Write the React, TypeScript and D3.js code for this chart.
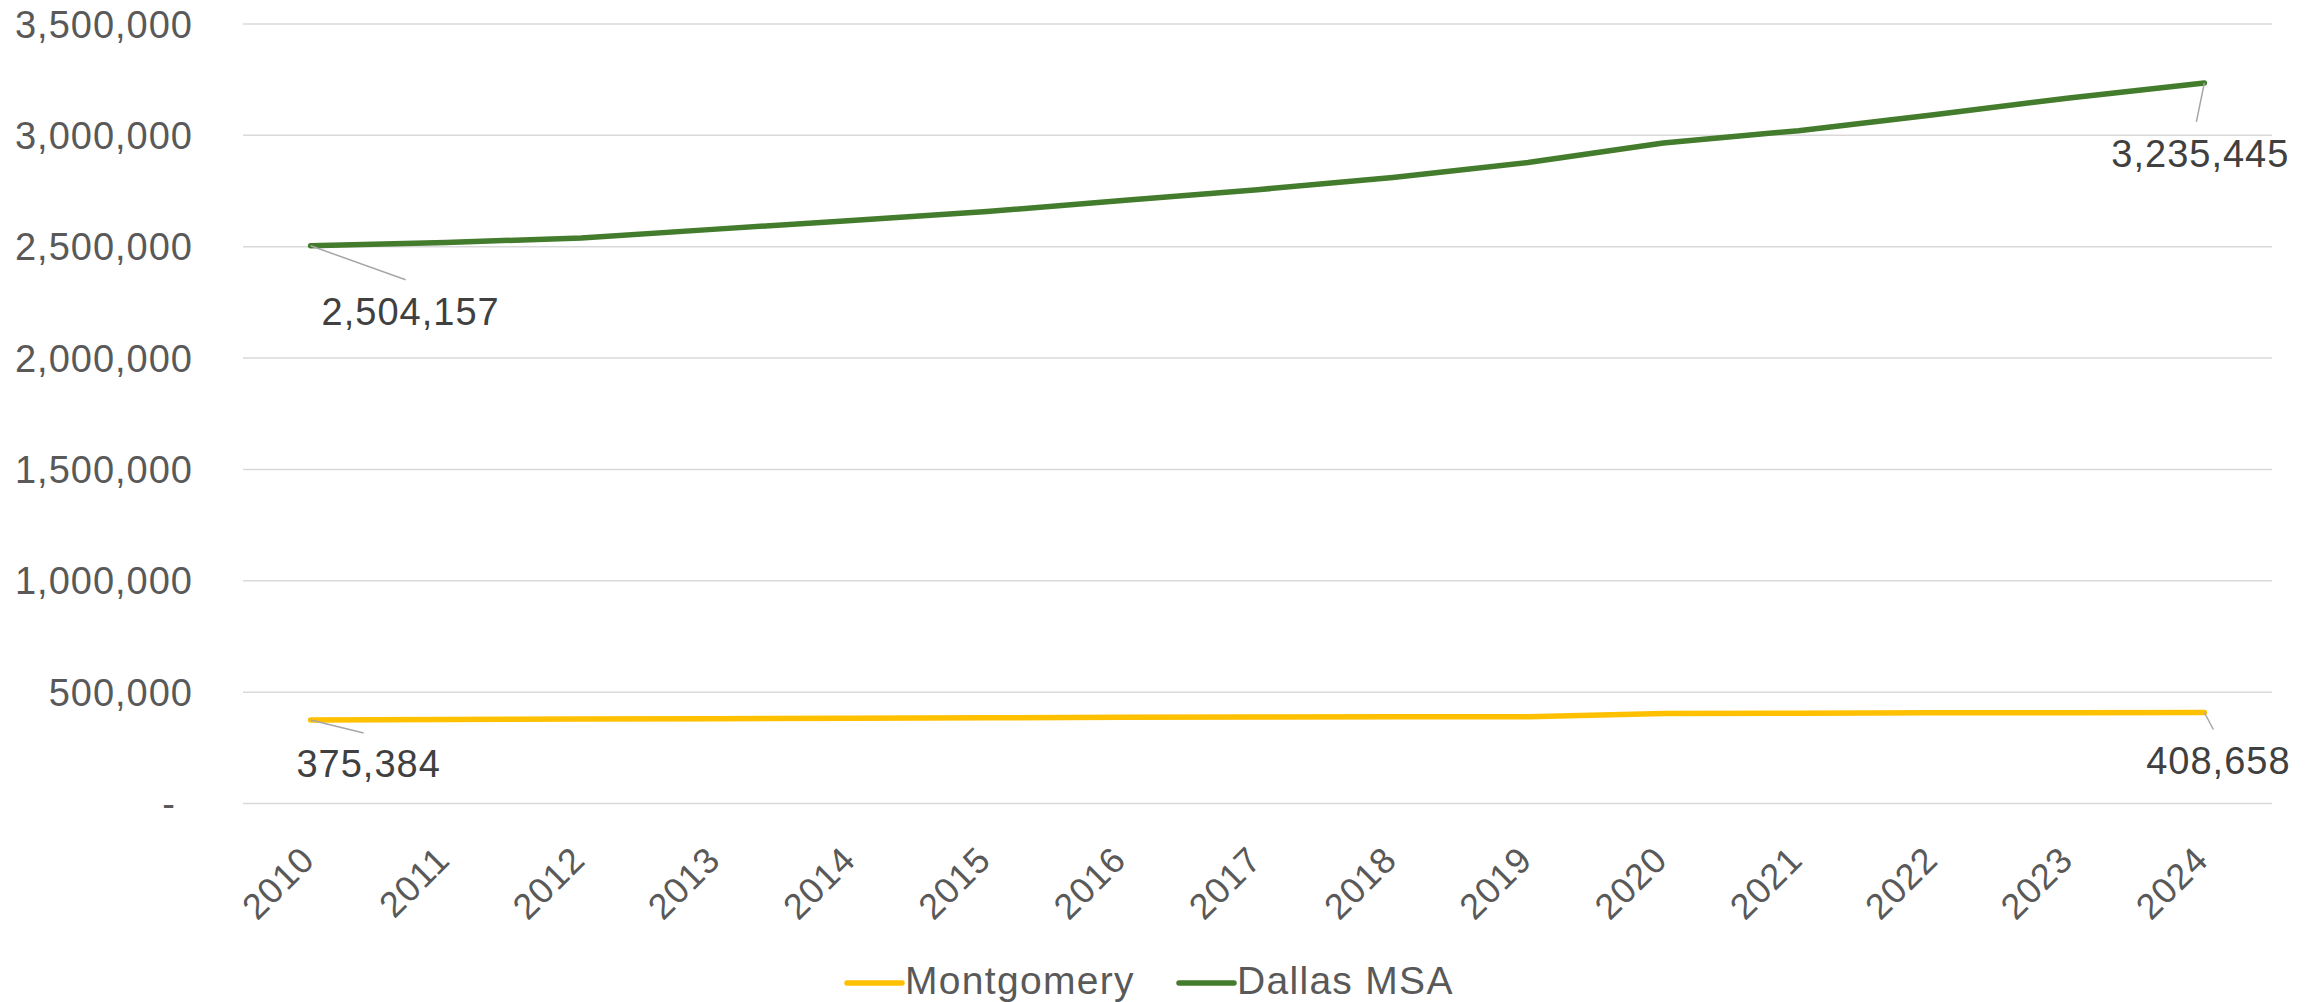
import React from "react";
import * as d3 from "d3";

const years = ["2010","2011","2012","2013","2014","2015","2016","2017","2018","2019","2020","2021","2022","2023","2024"];
const montgomery = [375384, 377000, 379000, 381000, 383000, 385000, 387000, 388000, 389000, 390000, 404000, 405000, 407000, 408000, 408658];
const dallas = [2504157, 2519000, 2539000, 2579000, 2618000, 2658000, 2708000, 2756000, 2811000, 2878000, 2966000, 3021000, 3093000, 3168000, 3235445];
const yTicks = [0, 500000, 1000000, 1500000, 2000000, 2500000, 3000000, 3500000];
const seriesNames = ["Montgomery", "Dallas MSA"];
const seriesColors = ["#FFC000", "#437C2C"];

const W = 2319, H = 1002;
const left = 243, right = 2272, top = 24, bottom = 803.5;

const fmt = d3.format(",");

export default function App() {
  const x = d3.scalePoint<string>().domain(years).range([left, right]).padding(0.5);
  const y = d3.scaleLinear().domain([0, 3500000]).range([bottom, top]);
  const line = d3.line<number>().x((_, i) => x(years[i])!).y((d) => y(d));
  const series = [montgomery, dallas];

  const labelOffsets = [
    [ { lx: 53, ly: 13, tx: 58, ty: 57 }, { lx: 9, ly: 17, tx: 14, ty: 62 } ],
    [ { lx: 95, ly: 34, tx: 100, ty: 79 }, { lx: -8, ly: 39, tx: -4, ty: 84 } ],
  ];

  const axisFont = "'Liberation Sans', Arial, sans-serif";
  const legendLineX = [847, 1179];

  return (
    <svg width={W} height={H} style={{ position: "absolute", left: 0, top: 0, background: "#fff" }}>
      <rect x={0} y={0} width={W} height={H} fill="#fff" />
      {yTicks.map((t) => (
        <g key={t}>
          <line x1={left} x2={right} y1={y(t)} y2={y(t)} stroke="#d9d9d9" strokeWidth={1.5} />
          <text
            x={t === 0 ? 176 : 193}
            y={y(t)}
            dy="0.36em"
            textAnchor="end"
            fontFamily={axisFont}
            fontSize={38}
            letterSpacing={1}
            fill="#595959"
          >
            {t === 0 ? "-" : fmt(t)}
          </text>
        </g>
      ))}
      {years.map((yr) => (
        <text
          key={yr}
          transform={`translate(${x(yr)! + 6},862) rotate(-45)`}
          textAnchor="end"
          fontFamily={axisFont}
          fontSize={36}
          letterSpacing={1}
          fill="#595959"
        >
          {yr}
        </text>
      ))}
      {series.map((s, si) => (
        <path
          key={si}
          d={line(s)!}
          fill="none"
          stroke={seriesColors[si]}
          strokeWidth={5.5}
          strokeLinecap="round"
          strokeLinejoin="round"
        />
      ))}
      {series.map((s, si) =>
        [0, s.length - 1].map((idx, k) => {
          const px = x(years[idx])!;
          const py = y(s[idx]);
          const o = labelOffsets[si][k];
          return (
            <g key={`${si}-${idx}`}>
              <line x1={px} y1={py} x2={px + o.lx} y2={py + o.ly} stroke="#a6a6a6" strokeWidth={1.5} />
              <text
                x={px + o.tx}
                y={py + o.ty}
                textAnchor="middle"
                fontFamily={axisFont}
                fontSize={38}
                letterSpacing={1}
                fill="#404040"
              >
                {fmt(s[idx])}
              </text>
            </g>
          );
        })
      )}
      {seriesNames.map((name, i) => {
        const lx = legendLineX[i];
        return (
          <g key={name}>
            <line x1={lx} x2={lx + 55} y1={983} y2={983} stroke={seriesColors[i]} strokeWidth={5.5} strokeLinecap="round" />
            <text
              x={lx + 58}
              y={994}
              fontFamily={axisFont}
              fontSize={39}
              letterSpacing={1.3}
              fill="#595959"
            >
              {name}
            </text>
          </g>
        );
      })}
    </svg>
  );
}
